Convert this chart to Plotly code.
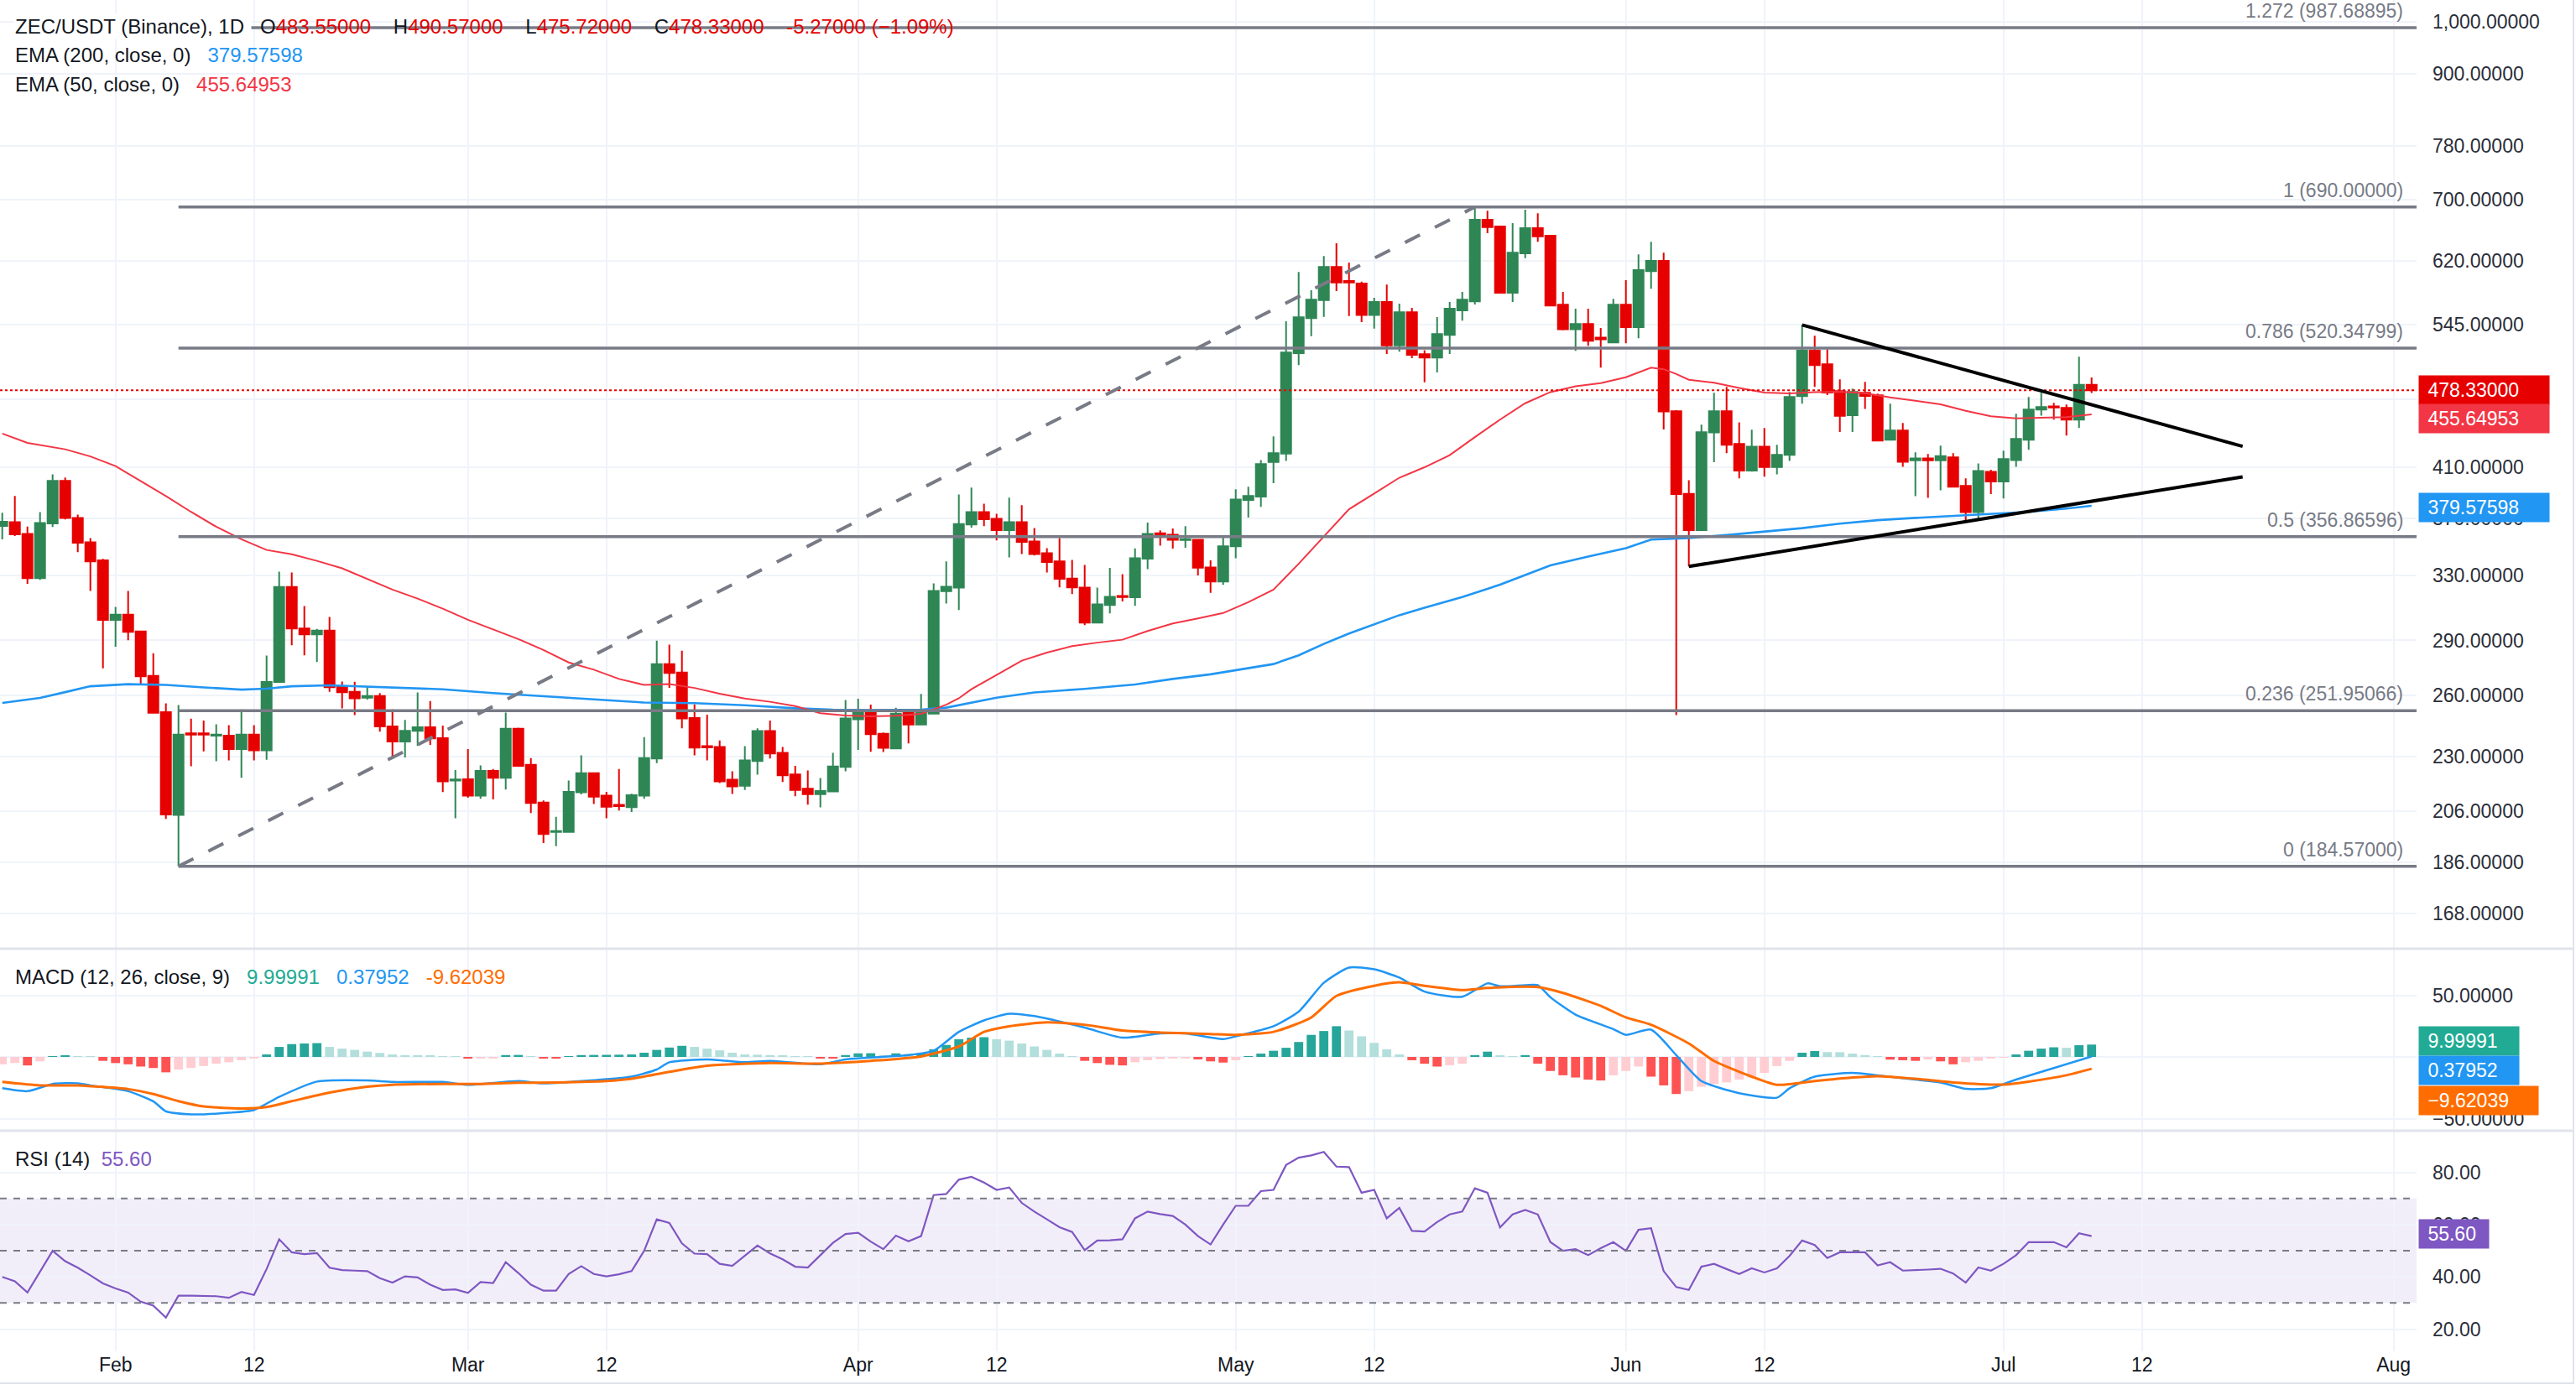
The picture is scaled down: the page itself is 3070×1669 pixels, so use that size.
import math
import pandas as pd
import plotly.graph_objects as go
from plotly.subplots import make_subplots

# ---------------- data ----------------
FIRST_DAY = "2026-01-23"          # first daily candle
BASE_DAY = "2026-02-01"           # origin of the day offsets used below

opens = [364.6, 367.4, 358.9, 328.5, 366.4, 399.0, 370.5, 352.9, 340.3,
         302.1, 305.3, 295.3, 270.1, 251.2, 204.6, 240.8, 240.8, 239.7, 239.7, 233.4, 240.2, 232.8, 266.9, 322.7, 297.0, 293.5, 295.8, 264.4, 261.7, 258.6, 259.5, 244.2, 236.9, 242.0, 243.8, 238.5, 219.1,
         219.7, 212.6, 223.4, 220.3, 243.0, 226.1, 209.7, 197.7, 197.7, 214.0, 222.4, 212.6, 208.7, 207.8, 212.6, 229.0, 276.6, 272.0, 248.3, 234.7, 234.3, 219.5, 216.8, 227.8, 241.9, 231.6, 221.8, 215.6, 213.2, 214.4, 225.2,
         247.7, 250.9, 240.6, 233.6, 250.9, 245.1, 250.5, 320.0, 322.3, 365.6, 374.9, 369.9, 361.5, 367.4, 353.5, 345.3, 339.6, 328.2, 322.3, 300.5, 311.3, 317.0, 316.1, 341.5, 359.3, 358.3, 354.5, 354.7, 335.6, 326.3,
         350.1, 384.1, 386.6, 414.4, 421.4, 515.2, 552.4, 572.7, 612.1, 595.0, 592.0, 556.0, 570.5, 523.1, 559.1, 514.0, 510.5, 534.3, 561.0, 571.4, 672.5, 663.5, 581.2, 628.8, 661.3, 651.4, 567.4, 540.4, 546.1, 531.4, 526.2,
         567.4, 542.5, 607.0, 619.4, 458.6, 388.8, 361.5, 439.5, 458.6, 429.5, 407.2, 427.3, 410.2, 420.3, 472.7, 517.6, 503.8, 477.5, 455.0, 475.9, 473.5, 433.2, 441.2, 415.8, 417.3, 415.8, 418.1, 395.0, 374.9, 406.3,
         398.5, 416.0, 433.2, 460.1, 463.0, 461.6, 450.9, 483.55]
highs = [374.3, 387.1, 364.2, 374.9, 404.3, 401.7, 372.9, 355.9, 341.3,
         310.1, 320.2, 295.8, 282.7, 255.7, 254.8, 248.0, 247.0, 245.2, 244.8, 252.6, 244.8, 281.3, 332.7, 332.2, 310.6, 296.8, 303.9, 267.1, 267.0, 264.5, 261.0, 252.6, 247.4, 261.3, 256.9, 244.6, 223.8,
         233.4, 225.8, 224.2, 251.0, 243.6, 229.2, 210.6, 203.8, 219.1, 230.4, 222.6, 214.2, 224.2, 213.4, 239.0, 289.9, 287.6, 284.1, 255.2, 250.0, 237.4, 223.2, 234.7, 243.2, 247.0, 234.3, 225.7, 223.6, 220.2, 231.6, 257.4,
         258.1, 255.1, 241.2, 253.5, 251.5, 260.6, 325.0, 339.6, 388.3, 393.6, 381.2, 373.6, 385.8, 380.0, 363.1, 348.8, 355.9, 340.7, 337.3, 322.3, 335.3, 331.1, 348.6, 367.1, 361.4, 362.7, 364.4, 355.2, 340.3, 356.5,
         392.3, 394.3, 416.0, 436.1, 548.9, 606.0, 584.1, 625.6, 641.6, 617.3, 594.3, 575.3, 590.9, 568.6, 563.9, 518.1, 553.6, 570.5, 582.1, 690.0, 684.9, 664.3, 668.0, 686.1, 681.5, 652.5, 582.1, 562.9, 562.9, 541.6, 574.3,
         596.0, 627.7, 643.7, 629.6, 459.5, 399.5, 446.4, 475.9, 481.5, 448.6, 441.9, 443.4, 428.8, 476.7, 545.0, 533.4, 519.3, 488.8, 479.9, 486.4, 475.1, 465.6, 447.9, 422.4, 421.0, 428.1, 421.7, 401.0, 413.2, 408.0,
         423.8, 456.3, 471.9, 475.9, 466.4, 464.8, 511.5, 490.57]
lows = [354.9, 357.3, 324.7, 327.4, 363.9, 369.4, 346.0, 320.2, 274.3,
        286.3, 290.1, 265.8, 250.6, 202.9, 184.57, 225.5, 232.3, 227.7, 228.1, 220.3, 228.1, 228.4, 266.5, 287.2, 281.5, 277.7, 261.7, 253.1, 249.8, 257.6, 241.6, 229.7, 229.5, 234.9, 235.3, 214.1, 203.2,
        211.7, 211.3, 211.0, 215.2, 225.6, 205.3, 193.4, 192.2, 197.4, 213.1, 209.1, 203.2, 206.4, 205.8, 211.3, 226.9, 263.8, 243.2, 230.4, 228.1, 218.0, 213.3, 215.0, 221.7, 229.0, 218.5, 212.3, 208.8, 207.7, 214.1, 223.2,
        233.0, 232.1, 232.0, 233.4, 236.0, 244.8, 250.3, 312.2, 308.2, 363.3, 364.4, 354.2, 342.4, 344.7, 343.6, 332.2, 322.5, 318.2, 299.0, 300.3, 306.1, 313.5, 310.7, 334.4, 350.5, 348.5, 349.1, 330.2, 319.0, 324.1,
        341.8, 370.7, 378.8, 397.2, 415.2, 503.0, 532.8, 553.8, 583.3, 554.7, 548.0, 540.9, 514.3, 516.7, 510.0, 485.9, 495.7, 514.3, 549.8, 567.7, 654.7, 580.4, 570.5, 622.8, 643.7, 565.6, 539.2, 517.5, 522.8, 500.5, 525.4,
        525.4, 530.7, 586.0, 442.2, 249.8, 336.2, 361.0, 414.1, 421.7, 401.0, 406.5, 402.3, 404.3, 415.2, 465.6, 481.5, 473.7, 439.9, 439.9, 460.7, 431.7, 432.5, 410.4, 386.9, 385.6, 391.6, 393.7, 367.5, 370.0, 388.6,
        385.2, 410.4, 424.5, 454.5, 450.9, 436.8, 443.4, 475.72]
closes = [367.6, 358.5, 328.5, 366.8, 399.0, 370.4, 352.5, 339.7, 302.1,
          305.3, 295.0, 269.9, 250.9, 204.7, 240.2, 240.2, 240.2, 240.2, 233.4, 240.2, 232.8, 266.9, 322.7, 297.0, 293.5, 295.8, 264.1, 261.4, 258.3, 259.5, 244.2, 236.9, 242.0, 243.8, 238.4, 218.8, 219.6,
          212.6, 223.4, 220.3, 243.0, 225.7, 209.5, 196.9, 198.1, 214.2, 222.4, 212.2, 207.9, 208.2, 212.8, 229.2, 276.6, 271.7, 248.1, 234.0, 234.1, 218.8, 216.6, 228.1, 241.9, 231.3, 221.4, 215.0, 213.2, 214.6, 225.4, 248.1,
          250.9, 240.4, 233.9, 250.5, 245.1, 250.9, 320.1, 322.8, 366.0, 374.9, 369.5, 361.5, 367.4, 353.1, 344.7, 339.2, 328.0, 322.4, 300.5, 311.7, 316.4, 316.3, 341.8, 358.9, 358.5, 354.6, 355.1, 335.4, 326.3, 350.1,
          384.4, 387.1, 412.6, 421.7, 515.8, 553.5, 573.3, 612.1, 593.3, 593.3, 556.0, 570.5, 523.1, 559.1, 513.4, 510.5, 535.2, 562.9, 573.3, 672.5, 662.7, 581.2, 629.8, 661.3, 650.6, 566.6, 540.4, 546.1, 528.0, 529.6, 567.4,
          542.5, 608.1, 619.4, 458.4, 388.6, 361.5, 439.8, 458.6, 428.8, 407.2, 427.3, 410.2, 420.3, 471.9, 517.6, 503.0, 476.1, 454.4, 476.7, 472.9, 432.4, 441.2, 414.6, 417.3, 415.8, 419.3, 394.3, 374.9, 407.0, 398.5,
          416.7, 433.9, 460.1, 462.4, 462.0, 450.9, 483.55, 478.33]

# EMA lines, read at day offsets from BASE_DAY
ema50_day = [-9, -7, -4, -2, 0, 2, 4, 6, 8, 10, 12, 14, 16, 18, 20, 22, 24, 26, 28, 30, 32, 34, 36, 38, 40, 42, 44, 46, 48, 50,
             52, 54, 56, 58, 60, 62, 64, 66, 67, 68, 70, 72, 74, 76, 78, 80, 82, 84, 86, 88, 90, 92, 94, 96, 98, 100, 102, 104, 106, 108,
             110, 112, 114, 116, 118, 120, 122, 123, 124, 125, 127, 129, 131, 133, 135, 137, 139, 141, 143, 145, 147, 149, 151, 153, 155, 157]
ema50_val = [438.6, 430.5, 425.0, 419.0, 411.0, 399.0, 387.0, 375.0, 364.0, 355.0, 347.5, 344.5, 340.0, 335.0, 328.0, 321.0, 315.3, 309.0, 302.2, 296.3,
             290.8, 284.5, 277.5, 273.5, 268.5, 265.3, 265.8, 263.7, 260.7, 258.2, 256.5, 254.3, 250.7, 249.6, 249.1, 249.4, 250.4, 255.0, 258.3, 263.0,
             270.5, 278.5, 283.0, 286.7, 288.7, 290.4, 295.5, 300.0, 303.0, 306.3, 313.0, 321.0, 338.0, 357.0, 377.0, 389.0, 401.5, 410.0, 420.0, 435.5,
             451.0, 466.0, 476.5, 482.0, 485.2, 490.9, 500.3, 498.8, 494.0, 488.4, 485.5, 480.5, 476.0, 475.3, 476.5, 476.8, 475.5, 471.5, 468.0, 465.0,
             459.0, 454.0, 452.1, 452.6, 453.2, 455.64953]
ema200_day = [-9, -6, -4, -2, 1, 4, 7, 10, 12, 14, 17, 20, 23, 26, 30, 34, 38, 42, 46, 50, 54, 57, 60, 64, 66, 68, 70, 73, 77, 81,
              84, 87, 90, 92, 94, 96, 98, 100, 102, 104, 107, 110, 112, 114, 117, 120, 122, 125, 128, 131, 134, 137, 140, 143, 146, 149, 152, 155, 157]
ema200_val = [255.9, 258.5, 261.5, 264.6, 265.7, 265.3, 264.0, 262.8, 263.3, 264.6, 265.1, 264.5, 263.8, 263.0, 261.0, 259.3, 257.5, 256.1, 255.8, 254.7,
              253.2, 252.5, 252.3, 252.5, 253.5, 256.2, 258.6, 261.3, 263.2, 265.5, 268.5, 271.0, 274.3, 276.6, 281.5, 288.0, 294.0, 299.5, 305.0, 309.6,
              316.3, 324.2, 330.5, 337.0, 343.0, 348.8, 354.8, 355.9, 358.0, 360.3, 363.0, 366.3, 368.8, 370.5, 372.0, 373.1, 375.0, 377.5, 379.57598]

# MACD (12, 26, close, 9)
macd_day = [-9, -7, -5, -3, -2, 1, 3, 4, 6, 9, 11, 13, 16, 20, 22, 26, 28, 32, 34, 38, 41, 43, 44, 47, 50, 52, 56, 58, 63, 65,
            67, 69, 71, 73, 77, 80, 83, 85, 88, 89, 92, 94, 96, 98, 100, 102, 104, 107, 109, 110, 112, 113, 114, 116, 119, 120, 122, 124, 126, 129,
            132, 133, 135, 138, 140, 143, 145, 147, 149, 151, 154, 157]
macd_val = [-25.4, -27.8, -21.9, -21.4, -23.1, -27.8, -36.0, -44.1, -46.6, -45.3, -43.0, -32.4, -20.0, -19.1, -20.3, -20.3, -22.6, -19.6, -21.4, -18.9,
            -16.0, -10.2, -4.3, -2.0, -4.3, -3.2, -6.0, -2.0, 1.5, 5.0, 20.3, 29.6, 35.0, 33.1, 23.8, 15.6, 19.1, 19.1, 14.4, 16.7,
            24.9, 36.7, 60.1, 72.5, 71.1, 64.3, 53.0, 48.8, 59.6, 57.3, 58.2, 58.2, 48.4, 34.3, 22.6, 17.9, 22.1, 1.5, -19.6, -29.4,
            -33.1, -25.4, -16.0, -13.0, -14.9, -18.4, -20.7, -25.9, -25.4, -18.4, -9.0, 0.37952]
signal_day = [-9, -6, -3, 1, 3, 5, 7, 10, 12, 14, 17, 20, 22, 26, 29, 32, 35, 39, 41, 44, 47, 52, 56, 60, 64, 67, 69, 71, 74, 77,
              80, 83, 87, 89, 92, 95, 97, 100, 102, 104, 107, 109, 113, 115, 118, 120, 122, 125, 127, 130, 132, 135, 138, 140, 143, 146, 150, 152, 155, 157]
signal_val = [-20.3, -23.1, -23.1, -26.1, -30.1, -35.9, -40.2, -41.8, -40.6, -35.9, -28.9, -24.2, -22.6, -21.9, -21.9, -21.0, -20.7, -19.6, -17.7, -12.1,
              -7.1, -5.0, -5.5, -3.2, 0.4, 8.5, 20.3, 24.9, 28.0, 26.1, 21.4, 19.8, 18.6, 17.9, 20.3, 32.0, 49.5, 57.7, 60.5, 57.7,
              54.2, 55.9, 56.6, 51.9, 41.4, 32.0, 26.1, 10.9, -3.2, -16.0, -22.6, -19.6, -16.7, -15.6, -17.7, -20.7, -22.4, -20.0, -14.9, -9.62039]
# histogram, one value per candle
hist_val = [-6.0, -5.0, -6.9, -3.6, 0.6, 0.8, 0.4, 0.1, -3.2,
            -5.0, -6.0, -7.8, -9.0, -12.5, -10.2, -9.0, -7.4, -5.5, -4.3, -2.7, -1.3, 2.0, 8.1, 10.4, 10.9, 11.2, 8.1, 6.7, 5.7, 4.3, 3.2, 2.0, 1.5, 1.5, 1.1, 0.6, 0.1,
            -1.3, -1.2, -0.8, 1.5, 1.6, 0.6, -0.8, -1.3, 0.6, 1.5, 1.6, 1.7, 1.8, 2.0, 3.4, 5.7, 7.6, 9.0, 8.1, 6.7, 5.3, 3.4, 2.0, 1.8, 1.5, 1.1, 0.6, 0.1, -1.3, -1.4, 1.5,
            2.9, 3.0, 1.5, 2.9, 2.5, 2.9, 6.2, 9.7, 14.4, 15.6, 16.0, 14.4, 13.2, 10.9, 8.5, 5.7, 2.7, 0.6, -3.2, -5.0, -6.4, -6.9, -4.3, -2.7, -1.8, -0.8, -0.7, -2.0, -3.6, -4.6,
            -2.7, 0.6, 2.7, 5.0, 7.4, 12.1, 17.9, 21.0, 24.9, 21.4, 16.7, 11.4, 6.2, 2.0, -2.7, -5.5, -7.8, -6.7, -5.5, 1.5, 4.3, 1.0, 0.6, 1.5, -5.5, -11.4, -14.9, -16.7, -18.4, -19.1, -14.9,
            -11.4, -7.8, -16.0, -23.1, -30.1, -27.8, -24.2, -21.9, -20.7, -18.4, -16.7, -13.0, -7.4, -3.2, 3.4, 4.8, 3.9, 3.8, 2.7, 1.5, 0.6, -2.2, -2.7, -3.2, -2.0, -3.6, -6.0, -4.3, -3.2, -1.3,
            -0.4, 2.0, 5.0, 6.7, 7.8, 7.4, 9.5, 9.99991]
# RSI (14), one value per candle
rsi_val = [40.0, 38.3, 34.0, 42.0, 50.0, 46.0, 43.5, 40.6, 37.5,
           35.6, 34.0, 30.5, 29.0, 24.4, 32.8, 32.8, 32.8, 32.6, 32.0, 34.2, 33.1, 43.0, 54.4, 49.4, 48.7, 49.1, 43.5, 42.6, 42.4, 42.2, 39.5, 37.8, 40.2, 39.8, 37.0, 35.0, 35.2,
           33.9, 38.0, 37.6, 45.6, 41.5, 37.0, 34.7, 34.7, 41.1, 44.1, 41.1, 40.2, 41.0, 42.2, 50.0, 62.0, 60.6, 52.8, 48.9, 48.7, 45.0, 44.2, 48.0, 52.0, 49.0, 46.7, 43.9, 43.6, 48.3, 53.0, 56.4,
           56.9, 53.5, 50.6, 55.8, 53.6, 55.6, 71.3, 71.7, 77.2, 78.3, 76.1, 73.3, 74.2, 68.3, 65.0, 62.0, 59.0, 57.2, 50.2, 53.9, 54.0, 54.4, 62.4, 65.0, 64.0, 63.3, 60.0, 55.6, 52.4, 60.0,
           67.2, 67.2, 72.8, 73.3, 82.8, 85.6, 86.5, 87.8, 82.2, 82.0, 72.2, 73.3, 62.4, 66.4, 57.6, 57.4, 61.0, 63.9, 65.0, 73.9, 72.2, 58.9, 63.9, 65.6, 63.9, 53.3, 50.0, 50.6, 48.3, 51.0, 53.3,
           50.0, 58.0, 58.6, 42.2, 36.1, 35.0, 43.9, 45.0, 43.0, 41.1, 43.3, 41.7, 43.3, 48.0, 53.9, 52.2, 47.2, 49.4, 49.4, 49.4, 44.4, 45.6, 42.4, 42.5, 42.8, 43.1, 41.3, 37.8, 43.6, 42.4,
           45.0, 48.3, 53.3, 53.3, 53.3, 51.3, 56.7, 55.60]

# Fibonacci retracement drawing
fib_ratio = ["0", "0.236", "0.5", "0.786", "1", "1.272"]
fib_price = [184.57, 251.95066, 356.86596, 520.34799, 690.0, 987.68895]
fib_start = "2026-02-06"
fib_swing_x = ["2026-02-06", "2026-05-20"]
fib_swing_y = [184.57, 690.0]
# symmetrical triangle
tri_upper_x = ["2026-06-15", "2026-07-20"]
tri_upper_y = [545.0, 427.5]
tri_lower_x = ["2026-06-06", "2026-07-20"]
tri_lower_y = [336.2, 402.2]

last_open, last_high, last_low, last_close = 483.55, 490.57, 475.72, 478.33
last_change, last_change_pct = -5.27, -1.09

price_ticks = [168, 186, 206, 230, 260, 290, 330, 370, 410, 470, 545, 620, 700, 780, 900, 1000]
price_hidden = [470]              # label sits under the value boxes
macd_ticks = [-50, 0, 50]
rsi_ticks = [20, 40, 60, 80]
x_tick_dates = ["2026-02-01", "2026-02-12", "2026-03-01", "2026-03-12", "2026-04-01", "2026-04-12",
                "2026-05-01", "2026-05-12", "2026-06-01", "2026-06-12", "2026-07-01", "2026-07-12", "2026-08-01"]
x_tick_text = ["Feb", "12", "Mar", "12", "Apr", "12", "May", "12", "Jun", "12", "Jul", "12", "Aug"]

# ---------------- styling ----------------
W, H = 3070, 1669
PLOT_W, PLOT_H = 2880, 1611
FONT = "Liberation Sans, Arial, sans-serif"
TXT = "#131722"
UP, DN = "#2E8655", "#E60000"
EMA50_C, EMA200_C = "#F23645", "#2196F3"
FIB_C = "#787B86"
GRID = "#F0F3FA"
SEP = "#E0E3EB"


def py(pix):
    return (PLOT_H - pix) / PLOT_H


def pxp(pix):
    return pix / PLOT_W


base = pd.Timestamp(BASE_DAY)


def day(d):
    return base + pd.Timedelta(days=d)


dates = pd.date_range(FIRST_DAY, periods=len(opens), freq="D")
x_left = day(-9.18)
x_right = day(182.82)

fig = make_subplots(rows=3, cols=1, shared_xaxes=True, vertical_spacing=0.0)

# price pane
fig.add_trace(go.Scatter(x=[day(d) for d in ema200_day], y=ema200_val, mode="lines",
                         line=dict(color=EMA200_C, width=2.6), hoverinfo="skip"), row=1, col=1)
fig.add_trace(go.Scatter(x=[day(d) for d in ema50_day], y=ema50_val, mode="lines",
                         line=dict(color=EMA50_C, width=2), hoverinfo="skip"), row=1, col=1)
fig.add_trace(go.Candlestick(x=dates, open=opens, high=highs, low=lows, close=closes,
                             increasing=dict(line=dict(color=UP, width=2), fillcolor=UP),
                             decreasing=dict(line=dict(color=DN, width=2), fillcolor=DN),
                             whiskerwidth=0, hoverinfo="skip"), row=1, col=1)
fig.add_trace(go.Scatter(x=[x_left, x_right], y=[last_close, last_close], mode="lines",
                         line=dict(color=DN, width=2, dash="dot"), hoverinfo="skip"), row=1, col=1)
for lv in fib_price:
    fig.add_trace(go.Scatter(x=[fib_start, x_right], y=[lv, lv], mode="lines",
                             line=dict(color=FIB_C, width=3.5), hoverinfo="skip"), row=1, col=1)
fig.add_trace(go.Scatter(x=fib_swing_x, y=fib_swing_y, mode="lines",
                         line=dict(color=FIB_C, width=4, dash="20px,20px"), hoverinfo="skip"), row=1, col=1)
fig.add_trace(go.Scatter(x=tri_upper_x, y=tri_upper_y, mode="lines",
                         line=dict(color="#000000", width=4), hoverinfo="skip"), row=1, col=1)
fig.add_trace(go.Scatter(x=tri_lower_x, y=tri_lower_y, mode="lines",
                         line=dict(color="#000000", width=4), hoverinfo="skip"), row=1, col=1)

# MACD pane
hist_colors = []
for i, v in enumerate(hist_val):
    prev = hist_val[i - 1] if i > 0 else v
    if v >= 0:
        hist_colors.append("#26A69A" if v > prev else "#B2DFDB")
    else:
        hist_colors.append("#FF5252" if v < prev else "#FFCDD2")
fig.add_trace(go.Bar(x=dates, y=hist_val, marker=dict(color=hist_colors, line=dict(width=0)),
                     width=0.72 * 86400000, hoverinfo="skip"), row=2, col=1)
fig.add_trace(go.Scatter(x=[day(d) for d in macd_day], y=macd_val, mode="lines",
                         line=dict(color="#2196F3", width=2.5, shape="spline", smoothing=0.6), hoverinfo="skip"), row=2, col=1)
fig.add_trace(go.Scatter(x=[day(d) for d in signal_day], y=signal_val, mode="lines",
                         line=dict(color="#FF6D00", width=3, shape="spline", smoothing=0.6), hoverinfo="skip"), row=2, col=1)

# RSI pane
fig.add_trace(go.Scatter(x=dates, y=rsi_val, mode="lines",
                         line=dict(color="#7E57C2", width=2.2), hoverinfo="skip"), row=3, col=1)

fig.update_traces(showlegend=False)

# axes
price_domain = [py(1130), 1.0]
macd_domain = [py(1346), py(1132)]
rsi_domain = [0.0, py(1349)]
axis_font = dict(family=FONT, size=23, color="#2A2E39")

fig.update_layout(
    width=W, height=H, margin=dict(l=0, r=W - PLOT_W, t=0, b=H - PLOT_H),
    paper_bgcolor="white", plot_bgcolor="white", showlegend=False,
    boxgap=0.2, boxgroupgap=0.0, bargap=0.25,
    xaxis_rangeslider_visible=False,
    yaxis=dict(domain=price_domain, type="log", range=[math.log10(156.8), math.log10(1043.8)],
               side="right", tickvals=price_ticks,
               ticktext=["" if v in price_hidden else f"{v:,.5f}" for v in price_ticks],
               showgrid=True, gridcolor=GRID, gridwidth=2, zeroline=False, ticks="",
               tickfont=axis_font, ticklabelstandoff=18, showline=False),
    yaxis2=dict(domain=macd_domain, range=[-58.5, 87.07], side="right", tickvals=macd_ticks,
                ticktext=["" if v == 0 else f"{v:.5f}".replace("-", "\u2212") for v in macd_ticks],
                showgrid=True, gridcolor=GRID, gridwidth=2, zeroline=False, ticks="",
                tickfont=axis_font, ticklabelstandoff=18),
    yaxis3=dict(domain=rsi_domain, range=[11.5, 95.6], side="right", tickvals=rsi_ticks,
                ticktext=[f"{v:.2f}" for v in rsi_ticks],
                showgrid=True, gridcolor=GRID, gridwidth=2, zeroline=False, ticks="",
                tickfont=axis_font, ticklabelstandoff=18),
)
fig.update_xaxes(range=[x_left, x_right], tickvals=x_tick_dates, ticktext=x_tick_text,
                 showgrid=True, gridcolor=GRID, gridwidth=2, zeroline=False, ticks="",
                 showline=False, tickfont=dict(family=FONT, size=23, color=TXT))
fig.update_xaxes(showticklabels=False, row=1, col=1)
fig.update_xaxes(showticklabels=False, row=2, col=1)
fig.update_xaxes(showticklabels=True, row=3, col=1)

# shapes: pane separators, borders, RSI band & levels
shapes = []
for sep_pix in (1131, 1348):
    shapes.append(dict(type="line", xref="paper", yref="paper", x0=0, x1=pxp(3068),
                       y0=py(sep_pix), y1=py(sep_pix), line=dict(color=SEP, width=3)))
shapes.append(dict(type="line", xref="paper", yref="paper", x0=0, x1=pxp(3068),
                   y0=py(1649), y1=py(1649), line=dict(color=SEP, width=2)))
shapes.append(dict(type="line", xref="paper", yref="paper", x0=pxp(3067), x1=pxp(3067),
                   y0=py(1649), y1=1, line=dict(color=SEP, width=2)))
shapes.append(dict(type="rect", xref="paper", yref="y3", x0=0, x1=1, y0=30, y1=70,
                   fillcolor="rgba(126,87,194,0.10)", line=dict(width=0), layer="below"))
for lv in (70, 50, 30):
    shapes.append(dict(type="line", xref="paper", yref="y3", x0=0, x1=1, y0=lv, y1=lv,
                       line=dict(color=FIB_C, width=2, dash="8px,8px")))
fig.update_layout(shapes=shapes)

# annotations
ann = []
LEG = dict(family=FONT, size=24, color=TXT)
sp3 = "\u00a0\u00a0\u00a0"
sp4 = "\u00a0\u00a0\u00a0\u00a0"
ann.append(dict(xref="paper", yref="paper", x=pxp(16), y=py(32), xanchor="left", yanchor="middle",
                text="ZEC/USDT (Binance), 1D\u00a0", showarrow=False, font=LEG, bgcolor="white", borderpad=1))
red = lambda s: f"<span style='color:{DN}'>{s}</span>"
ohlc = (f"O{red(f'{last_open:.5f}')}{sp4}H{red(f'{last_high:.5f}')}{sp4}L{red(f'{last_low:.5f}')}"
        f"{sp4}C{red(f'{last_close:.5f}')}{sp4}"
        + red(f"{last_change:.5f} ({last_change_pct:.2f}%)".replace("(-", "(\u2212")))
ann.append(dict(xref="paper", yref="paper", x=pxp(308), y=py(32), xanchor="left", yanchor="middle",
                text=ohlc, showarrow=False, font=LEG))
ann.append(dict(xref="paper", yref="paper", x=pxp(16), y=py(66), xanchor="left", yanchor="middle",
                text=f"EMA (200, close, 0){sp3}<span style='color:{EMA200_C}'>{ema200_val[-1]:.5f}</span>",
                showarrow=False, font=LEG))
ann.append(dict(xref="paper", yref="paper", x=pxp(16), y=py(100), xanchor="left", yanchor="middle",
                text=f"EMA (50, close, 0){sp3}<span style='color:{EMA50_C}'>{ema50_val[-1]:.5f}</span>",
                showarrow=False, font=LEG))
ann.append(dict(xref="paper", yref="paper", x=pxp(16), y=py(1164), xanchor="left", yanchor="middle",
                text=(f"MACD (12, 26, close, 9){sp3}<span style='color:#22AB94'>{hist_val[-1]:.5f}</span>{sp3}"
                      f"<span style='color:#2196F3'>{macd_val[-1]:.5f}</span>{sp3}"
                      f"<span style='color:#FF6D00'>{signal_val[-1]:.5f}</span>"),
                showarrow=False, font=LEG))
ann.append(dict(xref="paper", yref="paper", x=pxp(16), y=py(1381), xanchor="left", yanchor="middle",
                text=f"RSI (14)\u00a0\u00a0<span style='color:#7E57C2'>{rsi_val[-1]:.2f}</span>",
                showarrow=False, font=LEG))

# fib level labels (log axis -> log10 positions)
for r, lv in zip(fib_ratio, fib_price):
    ann.append(dict(xref="paper", yref="y", x=pxp(2866), y=math.log10(lv), xanchor="right", yanchor="bottom",
                    yshift=5, text=f"{r} ({lv:.5f})", showarrow=False,
                    font=dict(family=FONT, size=23, color=FIB_C)))


def axis_box(text, yref, y, color, width, yshift=0):
    return dict(xref="paper", x=1, xanchor="left", xshift=2, yref=yref, y=y, yanchor="middle",
                yshift=yshift, text="\u00a0" + text, showarrow=False, align="left", width=width,
                font=dict(family=FONT, size=23, color="white"), bgcolor=color, borderpad=4)


ann.append(axis_box(f"{last_close:.5f}", "y", math.log10(last_close), DN, 147))
ann.append(axis_box(f"{ema50_val[-1]:.5f}", "y", math.log10(ema50_val[-1]), EMA50_C, 147, yshift=-5))
ann.append(axis_box(f"{ema200_val[-1]:.5f}", "y", math.log10(ema200_val[-1]), EMA200_C, 147, yshift=-2))
ann.append(axis_box(f"{hist_val[-1]:.5f}", "y2", hist_val[-1], "#22AB94", 111, yshift=4))
ann.append(axis_box(f"{macd_val[-1]:.5f}", "y2", macd_val[-1], "#2196F3", 111, yshift=-17))
ann.append(axis_box(f"{signal_val[-1]:.5f}".replace("-", "\u2212"), "y2", signal_val[-1], "#FF6D00", 134, yshift=-38))
ann.append(axis_box(f"{rsi_val[-1]:.2f}", "y3", rsi_val[-1], "#7E57C2", 75, yshift=3))
fig.update_layout(annotations=ann)

fig.write_html("out.html")
